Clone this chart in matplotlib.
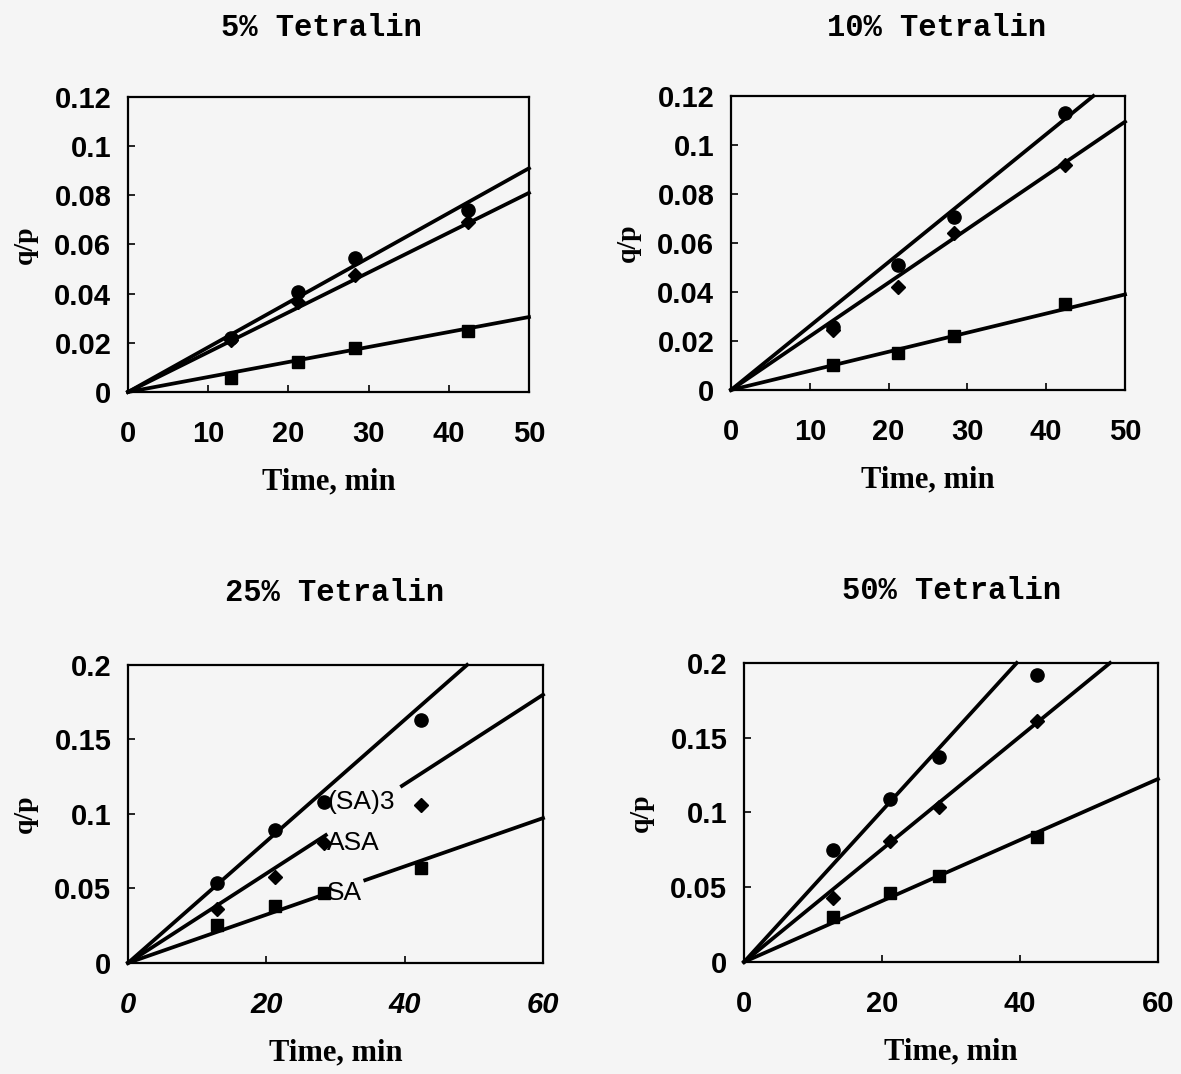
import matplotlib
matplotlib.use("Agg")
import matplotlib.pyplot as plt
import numpy as np
from matplotlib.ticker import FuncFormatter

# sampling times (min), same for every run
times = [12.9, 21.2, 28.3, 42.4]

# q/p values: (SA)3 = circles, ASA = diamonds, SA = squares
t5_sa3 = [0.022, 0.0407, 0.0545, 0.074]
t5_asa = [0.021, 0.0366, 0.0476, 0.069]
t5_sa = [0.0058, 0.0123, 0.0179, 0.025]

t10_sa3 = [0.0258, 0.051, 0.0707, 0.113]
t10_asa = [0.0245, 0.042, 0.064, 0.092]
t10_sa = [0.0102, 0.0152, 0.022, 0.035]

t25_sa3 = [0.0535, 0.0893, 0.108, 0.163]
t25_asa = [0.036, 0.058, 0.0803, 0.106]
t25_sa = [0.0255, 0.038, 0.0468, 0.0636]

t50_sa3 = [0.0749, 0.109, 0.137, 0.192]
t50_asa = [0.0426, 0.081, 0.104, 0.161]
t50_sa = [0.0303, 0.046, 0.0575, 0.0838]

# slopes of the fitted lines through the origin (q/p per min)
t5_slopes = [0.00182, 0.00162, 0.00061]
t10_slopes = [0.00261, 0.00219, 0.00078]
t25_slopes = [0.00408, 0.00300, 0.00162]
t50_slopes = [0.00506, 0.00377, 0.00204]

series_names = ["(SA)3", "ASA", "SA"]
titles = ["5% Tetralin", "10% Tetralin", "25% Tetralin", "50% Tetralin"]

# label gaps on the 25% lines (where the line is broken by its data label)
t25_gaps = [None, (28.6, 39.6), (28.6, 34.3)]

bg = "#f5f5f5"
plt.rcParams["font.family"] = "Liberation Sans"

fig = plt.figure(figsize=(11.81, 10.74), dpi=100, facecolor=bg)

panels = [
    dict(rect=[0.1084, 0.635, 0.3395, 0.2747], data=[t5_sa3, t5_asa, t5_sa], slopes=t5_slopes,
         xmax=50, xstep=10, ymax=0.12, ystep=0.02, title=titles[0], xit=False, tx=0.272, ty=0.974),
    dict(rect=[0.619, 0.6369, 0.3336, 0.2737], data=[t10_sa3, t10_asa, t10_sa], slopes=t10_slopes,
         xmax=50, xstep=10, ymax=0.12, ystep=0.02, title=titles[1], xit=False, tx=0.793, ty=0.974),
    dict(rect=[0.1084, 0.1034, 0.3514, 0.2775], data=[t25_sa3, t25_asa, t25_sa], slopes=t25_slopes,
         xmax=60, xstep=20, ymax=0.2, ystep=0.05, title=titles[2], xit=True, tx=0.283, ty=0.448),
    dict(rect=[0.63, 0.1043, 0.3505, 0.2784], data=[t50_sa3, t50_asa, t50_sa], slopes=t50_slopes,
         xmax=60, xstep=20, ymax=0.2, ystep=0.05, title=titles[3], xit=False, tx=0.806, ty=0.450),
]

markers = ["o", "D", "s"]
msizes = [9.5, 7.5, 9]

fmt = FuncFormatter(lambda v, p: "0" if abs(v) < 1e-12 else ("%g" % round(v, 3)))

for k, p in enumerate(panels):
    ax = fig.add_axes(p["rect"], facecolor=bg)
    for j in range(3):
        s = p["slopes"][j]
        x_end = min(p["xmax"], p["ymax"] / s)
        gap = t25_gaps[j] if k == 2 else None
        if gap is None:
            xs = np.array([0, x_end])
            ax.plot(xs, s * xs, color="black", lw=2.7, clip_on=False, zorder=3)
        else:
            for a, b in [(0, gap[0]), (gap[1], x_end)]:
                xs = np.array([a, b])
                ax.plot(xs, s * xs, color="black", lw=2.7, clip_on=False, zorder=3)
        ax.plot(times, p["data"][j], ls="none", marker=markers[j], ms=msizes[j],
                color="black", zorder=4, clip_on=False)

    if k == 2:
        for j in range(3):
            ax.text(times[2] + 0.5, p["data"][j][2], series_names[j], fontsize=19,
                    ha="left", va="center", color="black", zorder=6)

    ax.set_xlim(0, p["xmax"])
    ax.set_ylim(0, p["ymax"])
    ax.set_xticks(np.arange(0, p["xmax"] + 0.1, p["xstep"]))
    ax.set_yticks(np.arange(0, p["ymax"] + 1e-9, p["ystep"]))
    ax.yaxis.set_major_formatter(fmt)
    ax.tick_params(direction="in", length=5, width=1.2, labelsize=21, pad=12)
    ax.tick_params(axis="x", pad=20)
    for lab in ax.get_xticklabels() + ax.get_yticklabels():
        lab.set_fontweight("bold")
        if p["xit"] and lab in ax.get_xticklabels():
            lab.set_fontstyle("italic")
    for sp in ax.spines.values():
        sp.set_linewidth(1.6)

    ax.set_xlabel("Time, min", fontsize=22, fontweight="bold", family="Liberation Serif", labelpad=14)
    ax.set_ylabel("q/p", fontsize=20, fontweight="bold", family="Liberation Serif", labelpad=12)
    fig.text(p["tx"], p["ty"], p["title"], fontsize=22, fontweight="bold",
             family="Liberation Mono", ha="center", va="center")

fig.savefig("out.png", dpi=100, facecolor=bg)
